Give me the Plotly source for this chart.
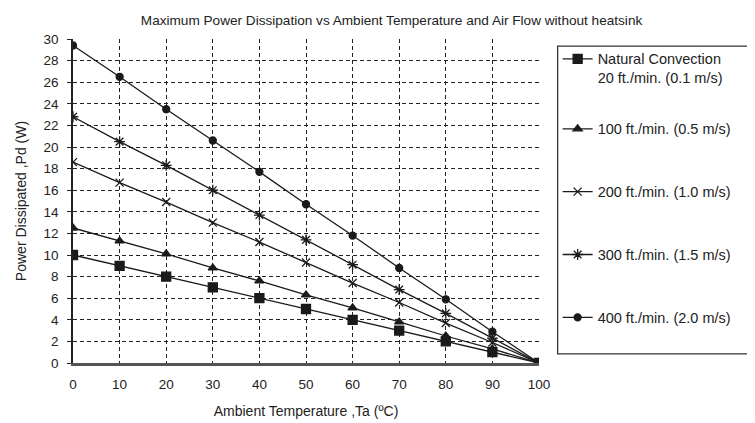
import plotly.graph_objects as go

temps = [0, 10, 20, 30, 40, 50, 60, 70, 80, 90, 100]
natural = [10.0, 9.0, 8.0, 7.0, 6.0, 5.0, 4.0, 3.0, 2.0, 1.0, 0.0]
ft100 = [12.5, 11.3, 10.1, 8.8, 7.6, 6.3, 5.1, 3.8, 2.5, 1.3, 0.0]
ft200 = [18.6, 16.7, 14.9, 13.0, 11.2, 9.3, 7.4, 5.6, 3.7, 1.9, 0.0]
ft300 = [22.8, 20.5, 18.3, 16.0, 13.7, 11.4, 9.1, 6.8, 4.6, 2.3, 0.0]
ft400 = [29.4, 26.5, 23.5, 20.6, 17.7, 14.7, 11.8, 8.8, 5.9, 2.9, 0.0]

names = ["Natural Convection<br>20 ft./min. (0.1 m/s)",
         "100 ft./min. (0.5 m/s)",
         "200 ft./min. (1.0 m/s)",
         "300 ft./min. (1.5 m/s)",
         "400 ft./min. (2.0 m/s)"]
series = [natural, ft100, ft200, ft300, ft400]
symbols = ["square", "triangle-up", "x-thin-open", "asterisk-open", "circle"]
sizes = [9, 8, 8, 9, 7]
legends = ["legend", "legend2", "legend2", "legend2", "legend2"]

FONT = "Liberation Sans, Arial, Helvetica, sans-serif"
TXT = "#222"

fig = go.Figure()
for i, (nm, ys, sym, sz, lg) in enumerate(zip(names, series, symbols, sizes, legends)):
    fig.add_trace(go.Scatter(
        x=temps, y=ys, name=nm, mode="lines+markers",
        legendgroup=str(i), legend=lg,
        line=dict(color="#1a1a1a", width=1.3),
        marker=dict(symbol=sym, size=sz, color="#1a1a1a",
                    line=dict(color="#1a1a1a", width=1.3)),
    ))

legend_common = dict(xanchor="left", yanchor="top",
                     bgcolor="rgba(0,0,0,0)", borderwidth=0,
                     itemwidth=30, valign="top",
                     font=dict(size=14.5, family=FONT, color=TXT))

fig.update_layout(
    width=755, height=423,
    margin=dict(l=61, r=224, t=31, b=68),
    paper_bgcolor="white", plot_bgcolor="white",
    font=dict(family=FONT, size=13, color=TXT),
    title=dict(text="Maximum Power Dissipation vs Ambient Temperature and Air Flow without heatsink",
               x=0.508, xanchor="center", y=0.972, yanchor="middle",
               font=dict(size=13.6, family=FONT, color=TXT)),
    showlegend=True,
    legend=dict(x=1.04, y=0.988, **legend_common),
    legend2=dict(x=1.04, y=0.772, tracegroupgap=41, **legend_common),
    shapes=[dict(type="rect", xref="paper", yref="paper",
                 x0=1.040, x1=1.455, y0=0.028, y1=0.978,
                 line=dict(color="#333", width=1.3))],
)

fig.update_xaxes(
    range=[0, 100], tickvals=temps, ticks="", ticklabelstandoff=7,
    showline=True, linecolor="#555", linewidth=2.5, mirror=False,
    showgrid=True, gridcolor="#222", gridwidth=1, griddash="4px,3px",
    zeroline=False,
    tickfont=dict(size=13.5, family=FONT, color=TXT),
    title=dict(text="Ambient Temperature ,Ta (ºC)", standoff=16,
               font=dict(size=14, family=FONT, color=TXT)),
)
fig.update_yaxes(
    range=[0, 30], dtick=2, ticks="outside", ticklen=4, tickcolor="#222",
    ticklabelstandoff=6,
    showline=True, linecolor="#222", linewidth=1.5,
    showgrid=True, gridcolor="#222", gridwidth=1, griddash="4px,3px",
    zeroline=False,
    tickfont=dict(size=13.5, family=FONT, color=TXT),
    title=dict(text="Power Dissipated ,Pd (W)", standoff=14,
               font=dict(size=14, family=FONT, color=TXT)),
)

fig.write_html("out.html")
